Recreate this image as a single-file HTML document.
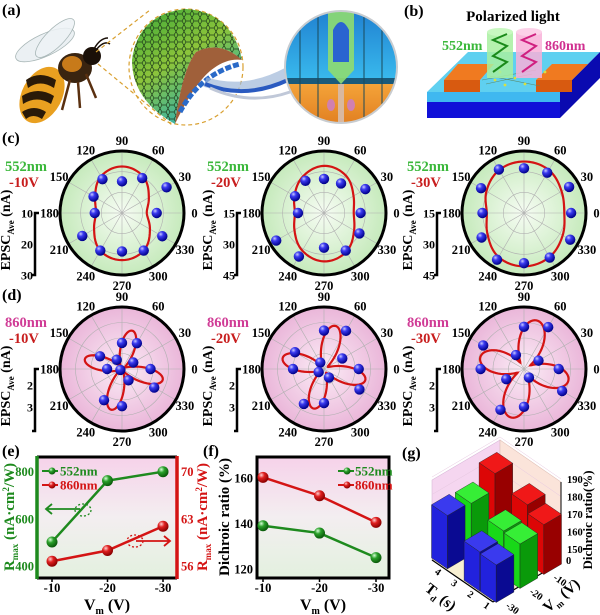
<!DOCTYPE html>
<html><head><meta charset="utf-8">
<style>
html,body{margin:0;padding:0;background:#fff;}
svg{display:block;font-family:"Liberation Serif",serif;font-weight:bold;}
</style></head>
<body>
<svg id="fig" width="600" height="615" viewBox="0 0 600 615" xmlns="http://www.w3.org/2000/svg">
<defs>
<radialGradient id="gGreen" cx="50%" cy="50%" r="50%"><stop offset="0" stop-color="#f6fcf3"/><stop offset="1" stop-color="#c6eabc"/></radialGradient>
<radialGradient id="gPink" cx="50%" cy="50%" r="50%"><stop offset="0" stop-color="#fbecf6"/><stop offset="1" stop-color="#eab6d9"/></radialGradient>
<radialGradient id="ball" cx="35%" cy="30%" r="70%"><stop offset="0" stop-color="#c8c8ff"/><stop offset="0.35" stop-color="#3a3af0"/><stop offset="1" stop-color="#00008a"/></radialGradient>
<radialGradient id="ballG" cx="35%" cy="30%" r="70%"><stop offset="0" stop-color="#d8ffd8"/><stop offset="0.4" stop-color="#2aa02a"/><stop offset="1" stop-color="#0a5a0a"/></radialGradient>
<radialGradient id="ballR" cx="35%" cy="30%" r="70%"><stop offset="0" stop-color="#ffd0d0"/><stop offset="0.4" stop-color="#e02020"/><stop offset="1" stop-color="#8a0000"/></radialGradient>
<linearGradient id="plotBg" x1="0" y1="0" x2="0" y2="1"><stop offset="0" stop-color="#f6d2ea"/><stop offset="0.5" stop-color="#f3eef0"/><stop offset="1" stop-color="#e3f1df"/></linearGradient>
<linearGradient id="sheet" x1="0" y1="0" x2="0.6" y2="1"><stop offset="0" stop-color="#3aa838"/><stop offset="0.5" stop-color="#8cc43a"/><stop offset="1" stop-color="#2ab0b8"/></linearGradient>
<linearGradient id="inTop" x1="0" y1="0" x2="0" y2="1"><stop offset="0" stop-color="#1f7fd0"/><stop offset="1" stop-color="#3cc0f0"/></linearGradient>
<linearGradient id="inBot" x1="0" y1="0" x2="0" y2="1"><stop offset="0" stop-color="#f5a53a"/><stop offset="1" stop-color="#e07d20"/></linearGradient>
<pattern id="hex" width="8" height="7" patternUnits="userSpaceOnUse"><path d="M2,0 L6,0 L8,3.5 L6,7 L2,7 L0,3.5 Z" fill="none" stroke="#1d3a1a" stroke-width="0.7"/></pattern>
<clipPath id="inset"><circle cx="341" cy="67" r="56"/></clipPath>
</defs>

<!-- Panel (a) -->
<g>
<text x="2" y="15" font-size="16">(a)</text>
<g>
<ellipse cx="45" cy="45" rx="32" ry="11" transform="rotate(-25 45 45)" fill="#e8eef2" stroke="#9aa" stroke-width="0.8" opacity="0.85"/>
<ellipse cx="55" cy="38" rx="26" ry="9" transform="rotate(-45 55 38)" fill="#eef3f6" stroke="#9aa" stroke-width="0.8" opacity="0.85"/>
<ellipse cx="42" cy="95" rx="20" ry="30" transform="rotate(28 42 95)" fill="#e9a020"/>
<path d="M26,80 Q40,70 56,80 L54,88 Q40,79 28,88 Z" fill="#2a1a08"/>
<path d="M22,96 Q38,86 54,96 L51,104 Q37,95 23,104 Z" fill="#2a1a08"/>
<path d="M22,112 Q34,104 46,112 L42,119 Q33,113 26,119 Z" fill="#2a1a08"/>
<ellipse cx="75" cy="68" rx="17" ry="15" fill="#3a2410"/>
<ellipse cx="72" cy="64" rx="10" ry="8" fill="#c77a1a"/>
<circle cx="92" cy="56" r="9" fill="#1a1008"/>
<path d="M96,50 Q104,40 110,44 M94,49 Q100,38 108,38" stroke="#1a1008" stroke-width="1.5" fill="none"/>
<path d="M70,80 L62,110 M78,82 L80,108 M86,74 L96,98" stroke="#5a3010" stroke-width="2.5" fill="none"/>
</g>
<path d="M96,52 L150,10 M98,64 L172,125" stroke="#d9a030" stroke-width="1.2" stroke-dasharray="4,3" fill="none"/>
<g>
<ellipse cx="186" cy="67" rx="57" ry="58" fill="none" stroke="#d9a030" stroke-width="1.2" stroke-dasharray="4,3"/>
<path d="M175,124 Q132,100 132,60 Q138,14 186,9 Q232,12 242,60 Q220,40 196,52 Q182,70 175,124 Z" fill="url(#sheet)"/>
<path d="M175,124 Q132,100 132,60 Q138,14 186,9 Q232,12 242,60 Q220,40 196,52 Q182,70 175,124 Z" fill="url(#hex)"/>
<path d="M175,124 Q182,70 196,52 Q220,40 242,60 Q228,58 214,68 Q196,80 175,124 Z" fill="#a0603a"/>
<path d="M180,112 Q200,74 240,64" stroke="#2a6ac8" stroke-width="5" fill="none" stroke-dasharray="6,2"/>
</g>
<g>
<path d="M205,82 Q245,95 288,72" stroke="#9fb8d8" stroke-width="10" fill="none" opacity="0.7"/>
<path d="M205,84 Q245,100 288,80" stroke="#2a5ac0" stroke-width="4" fill="none"/>
<path d="M210,88 Q250,106 290,92" stroke="#c0c8d8" stroke-width="3" fill="none"/>
</g>
<g clip-path="url(#inset)">
<rect x="280" y="8" width="125" height="80" fill="url(#inTop)"/>
<rect x="280" y="82" width="125" height="45" fill="url(#inBot)"/>
<rect x="280" y="78" width="125" height="6" fill="#1a5a7a"/>
<path d="M300,8 V125 M318,8 V125 M364,8 V125 M382,8 V125" stroke="#1a4a5a" stroke-width="1"/>
<path d="M328,8 L354,8 L354,70 L341,84 L328,70 Z" fill="#8fdc70" opacity="0.9"/>
<path d="M333,30 Q341,14 349,30 L349,62 L333,62 Z" fill="#2a64d0"/>
<rect x="338" y="84" width="6" height="42" fill="#d8b8a0"/>
<ellipse cx="331" cy="105" rx="4" ry="6" fill="#d080b0"/><ellipse cx="351" cy="105" rx="4" ry="6" fill="#d080b0"/>
</g>
<circle cx="341" cy="67" r="56" fill="none" stroke="#c8ccd0" stroke-width="2"/>
</g>

<!-- Panel (b) -->
<g>
<text x="404" y="16" font-size="16">(b)</text>
<text x="513" y="21" font-size="15" text-anchor="middle">Polarized light</text>
<polygon points="427,92 560,92 600,52 468,52" fill="#5fd0f0"/>
<polygon points="427,92 560,92 560,102 427,102" fill="#3fb8f0"/>
<polygon points="427,102 560,102 560,118 427,118" fill="#1010d8"/>
<polygon points="560,92 600,52 600,78 560,118" fill="#0a0ab0"/>
<g>
<polygon points="444,80 480,80 494,64 458,64" fill="#f07a20"/><rect x="444" y="80" width="36" height="12" fill="#d85a10"/></g>
<g>
<polygon points="536,80 572,80 588,64 552,64" fill="#f07a20"/><rect x="536" y="80" width="36" height="12" fill="#d85a10"/></g>
<path d="M482,80 L536,70 M486,84 L532,74 M490,76 L540,86" stroke="#5a8a6a" stroke-width="0.6"/>
<g fill="#d8e040"><circle cx="495" cy="80" r="1.4"/><circle cx="505" cy="85" r="1.4"/><circle cx="515" cy="78" r="1.4"/><circle cx="525" cy="84" r="1.4"/><circle cx="545" cy="72" r="1.4"/><circle cx="500" cy="72" r="1.4"/></g>
<g>
<rect x="487" y="32" width="26" height="46" fill="#a8f0a0" opacity="0.85"/><ellipse cx="500" cy="32" rx="13" ry="4" fill="#c8f8c0"/>
<path d="M493,72 L507,62 L493,56 L507,46 L493,40 L507,34" stroke="#1a8a1a" stroke-width="2" fill="none"/></g>
<g>
<rect x="516" y="32" width="26" height="46" fill="#f8b0d8" opacity="0.85"/><ellipse cx="529" cy="32" rx="13" ry="4" fill="#fcd0e8"/>
<path d="M522,72 L536,62 L522,56 L536,46 L522,40 L536,34" stroke="#d02080" stroke-width="2" fill="none"/></g>
<text x="442" y="50" font-size="14" fill="#3ab83a">552nm</text>
<text x="545" y="50" font-size="14" fill="#d03090">860nm</text>
</g>

<text x="2" y="143" font-size="16">(c)</text>
<text x="2" y="300" font-size="16">(d)</text>
<text x="2" y="456" font-size="16">(e)</text>
<text x="203" y="456" font-size="16">(f)</text>
<text x="402" y="458" font-size="16">(g)</text>

<g id="chartG"></g>
<g id="polars"></g>
<g id="chartE"></g>
<g id="chartF"></g>
</svg>

<script>
// ---------- data ----------
const polarAngles = [0,30,60,90,120,150,180,210,240,270,300,330];
// (c) 552 nm, normalized EPSC radius
const c1Values = [0.56,0.83,0.65,0.51,0.63,0.53,0.44,0.74,0.70,0.62,0.70,0.75];
const c2Values = [0.59,0.77,0.55,0.55,0.60,0.54,0.42,0.89,0.81,0.56,0.70,0.66];
const c3Values = [0.76,0.84,0.75,0.72,0.81,0.80,0.67,0.79,0.87,0.81,0.83,0.86];
const c1Fit = [0.40,0.50,0.68,0.75,0.68,0.50,0.42,0.52,0.70,0.76,0.70,0.52];
const c2Fit = [0.48,0.55,0.70,0.76,0.68,0.55,0.47,0.55,0.70,0.78,0.72,0.56];
const c3Fit = [0.65,0.70,0.80,0.83,0.80,0.70,0.60,0.68,0.82,0.86,0.82,0.72];
// (d) 860 nm
const d1Values = [0.46,0.21,0.48,0.42,0.17,0.41,0.24,0.03,0.58,0.60,0.21,0.60];
const d2Values = [0.56,0.34,0.71,0.62,0.12,0.54,0.50,0.10,0.65,0.55,0.16,0.66];
const d3Values = [0.56,0.27,0.78,0.68,0.26,0.76,0.70,0.33,0.76,0.61,0.16,0.71];
const lobeAngles = [75,165,255,345];
const d1Lobes = [0.64,0.62,0.68,0.68];
const d2Lobes = [0.72,0.69,0.66,0.69];
const d3Lobes = [0.81,0.73,0.81,0.74];
const dWaist = [0.06,0.07,0.12];
const dSharp = [3.0,2.5,1.6];
// (e)
const vmCats = ['-10','-20','-30'];
const eGreen = [502,762,800];
const eRed = [56.7,58.3,61.9];
const eLeftTicks = [400,600,800];
const eRightTicks = [56,63,70];
// (f)
const fGreen = [139,135.8,125];
const fRed = [160.3,152.2,140.5];
const fTicks = [120,140,160];
// (g)
const gTd = [4,2,1];
const gRed = [181,176,171];
const gGreen = [172,169,168];
const gBlue = [173,165,164];
const gTicks = [150,160,170,180,190];

// ---------- helpers ----------
const NS = 'http://www.w3.org/2000/svg';
function mk(tag, attrs, parent){ const e=document.createElementNS(NS,tag); for(const k in attrs) e.setAttribute(k,attrs[k]); parent.appendChild(e); return e; }
function pol(cx,cy,R,ang,r){ const a=ang*Math.PI/180; return [cx+R*r*Math.cos(a), cy-R*r*Math.sin(a)]; }
function cr(p0,p1,p2,p3,t){ return 0.5*((2*p1)+(-p0+p2)*t+(2*p0-5*p1+4*p2-p3)*t*t+(-p0+3*p1-3*p2+p3)*t*t*t); }

const polG = document.getElementById('polars');
const R = 62;
function polarPlot(cx, cy, kind, values, curveFn, wl, volt, scaleTicks, idx){
  const g = mk('g',{},polG);
  
  
  const bg = mk('circle',{cx:cx,cy:cy,r:R,fill: kind==='c'?'url(#gGreen)':'url(#gPink)'},g);
  
  
  const rings = kind==='c'?[1/3,2/3]:[0.25,0.5,0.75];
  rings.forEach(rr=>{ const c=mk('circle',{cx:cx,cy:cy,r:R*rr,fill:'none',stroke:'#b0b0b0','stroke-width':0.6},g);
      });
  polarAngles.forEach(a=>{ const p=pol(cx,cy,R,a,1); const l=mk('line',{x1:cx,y1:cy,x2:p[0],y2:p[1],stroke:'#b0b0b0','stroke-width':0.6},g);
     
    const q=pol(cx,cy,R,a,1.17); const t=mk('text',{x:q[0],y:q[1]+4.5,'font-size':12.5,'text-anchor':'middle'},g); t.textContent=a;
      });
  let d='';
  for(let th=0; th<=360; th+=2){ const r=curveFn(th); const p=pol(cx,cy,R,th,r); d+=(th===0?'M':'L')+p[0].toFixed(2)+','+p[1].toFixed(2); }
  const cv=mk('path',{d:d+'Z',fill:'none',stroke:'#d41414','stroke-width':2.2},g);
   
  values.forEach((v,i)=>{ const p=pol(cx,cy,R,polarAngles[i],v); const b=mk('circle',{cx:p[0],cy:p[1],r:5.2,fill:'url(#ball)'},g);
      });
  const ring=mk('circle',{cx:cx,cy:cy,r:R,fill:'none',stroke:'#000','stroke-width':3},g);
   
  const wlT=mk('text',{x:cx-117,y:cy-42,'font-size':14.5,fill: kind==='c'?'#3cb83c':'#d03c96'},g); wlT.textContent=wl;
   
  const vT=mk('text',{x:cx-113,y:cy-26,'font-size':14.5,fill:'#c81e1e'},g); vT.textContent=volt;
   
  const bx=cx-87;
  const bar=mk('path',{d:`M${bx+4},${cy} H${bx} V${cy+R} H${bx-3}`,fill:'none',stroke:'#000','stroke-width':2.5},g);
   
  scaleTicks.forEach((s,i)=>{ const y= kind==='c'? cy+R*i/2 : cy+16+i*22;
    const t=mk('text',{x:bx-2,y:y+4.5,'font-size':12,'text-anchor':'end'},g); t.textContent=s;
      });
  const yl=mk('text',{x:0,y:0,'font-size':14,'text-anchor':'middle',transform:`translate(${cx-112},${cy+17}) rotate(-90)`},g);
  yl.innerHTML='EPSC<tspan font-size="9" dy="4">Ave</tspan><tspan dy="-4"> (nA)</tspan>';
   
}
function cFit(arr){ return th=>{ const x=th/30; const i=Math.floor(x)%12; const t=x-Math.floor(x); const n=arr.length;
  return cr(arr[(i-1+n)%n],arr[i%n],arr[(i+1)%n],arr[(i+2)%n],t); }; }
function dFit(lobes,w,p){ return th=>{ let best=w; lobeAngles.forEach((a,i)=>{ const diff=((th-a)%360+540)%360-180;
  if(Math.abs(diff)<45){ const c=Math.cos(2*diff*Math.PI/180); best = w+(lobes[i]-w)*Math.pow(c,p); } }); return best; }; }

polarPlot(122,213,'c',c1Values,cFit(c1Fit),'552nm','-10V',['10','20','30'],1);
polarPlot(324,213,'c',c2Values,cFit(c2Fit),'552nm','-20V',['15','30','45'],2);
polarPlot(524,213,'c',c3Values,cFit(c3Fit),'552nm','-30V',['15','30','45'],3);
polarPlot(122,369,'d',d1Values,dFit(d1Lobes,dWaist[0],dSharp[0]),'860nm','-10V',['2','3'],1);
polarPlot(324,369,'d',d2Values,dFit(d2Lobes,dWaist[1],dSharp[1]),'860nm','-20V',['2','3'],2);
polarPlot(524,369,'d',d3Values,dFit(d3Lobes,dWaist[2],dSharp[2]),'860nm','-30V',['2','3'],3);

// ---------- (e) ----------
(function(){
  const g=document.getElementById('chartE');
  const L=37,Rt=177,T=457,B=578;
  const xs=i=>52+i*55.5;
  const yl=v=>566-(v-400)*(94.3/400);
  const yr=v=>566-(v-56)*(94.3/14);
  const bg=mk('rect',{x:L,y:T,width:Rt-L,height:B-T,fill:'url(#plotBg)'},g);
   
  const fr=mk('path',{d:`M${L},${T} H${Rt} M${L},${B} H${Rt}`,stroke:'#000','stroke-width':3},g);
   
  const la=mk('line',{x1:L,y1:T-1,x2:L,y2:B+1,stroke:'#1e8a1e','stroke-width':3.5},g);
   
  const ra=mk('line',{x1:Rt,y1:T-1,x2:Rt,y2:B+1,stroke:'#d41414','stroke-width':3.5},g);
   
  eLeftTicks.forEach(v=>{ const t=mk('text',{x:L-3,y:yl(v)+4.5,'font-size':12.5,'text-anchor':'end',fill:'#1e8a1e'},g); t.textContent=v;
      });
  eRightTicks.forEach(v=>{ const t=mk('text',{x:Rt+4,y:yr(v)+4.5,'font-size':12.5,fill:'#d41414'},g); t.textContent=v;
      });
  vmCats.forEach((c,i)=>{ const t=mk('text',{x:xs(i),y:592,'font-size':12.5,'text-anchor':'middle'},g); t.textContent=c;
     
    const tk=mk('line',{x1:xs(i),y1:B,x2:xs(i),y2:B+4,stroke:'#000','stroke-width':1.5},g);
      });
  const xt=mk('text',{x:107,y:610,'font-size':16,'text-anchor':'middle'},g);
  xt.innerHTML='V<tspan font-size="10" dy="4">m</tspan><tspan dy="-4"> (V)</tspan>';
   
  const ylab=mk('text',{x:0,y:0,'font-size':15,'text-anchor':'middle',fill:'#1e8a1e',transform:'translate(14,517) rotate(-90)'},g);
  ylab.innerHTML='R<tspan font-size="9" dy="4">max</tspan><tspan dy="-4"> (nA·cm</tspan><tspan font-size="9" dy="-5">2</tspan><tspan dy="5">/W)</tspan>';
   
  const yrlab=mk('text',{x:0,y:0,'font-size':15,'text-anchor':'middle',fill:'#d41414',transform:'translate(207,517) rotate(-90)'},g);
  yrlab.innerHTML='R<tspan font-size="9" dy="4">max</tspan><tspan dy="-4"> (nA·cm</tspan><tspan font-size="9" dy="-5">2</tspan><tspan dy="5">/W)</tspan>';
   
  function series(vals,yf,col,grad,name){
    const pts=vals.map((v,i)=>[xs(i),yf(v)]);
    const pl=mk('polyline',{points:pts.map(p=>p.join(',')).join(' '),fill:'none',stroke:col,'stroke-width':2.5},g);
     
    pts.forEach(p=>{ const c=mk('circle',{cx:p[0],cy:p[1],r:5.5,fill:grad},g);
        });
  }
  series(eGreen,yl,'#1e8a1e','url(#ballG)','green-552nm');
  series(eRed,yr,'#d41414','url(#ballR)','red-860nm');
  const lg=mk('g',{},g);  
  [['552nm','#1e8a1e','url(#ballG)',471],['860nm','#d41414','url(#ballR)',485]].forEach(l=>{
    mk('line',{x1:42,y1:l[3],x2:58,y2:l[3],stroke:l[1],'stroke-width':2},lg); mk('circle',{cx:52,cy:l[3],r:3.5,fill:l[2]},lg);
    const t=mk('text',{x:60,y:l[3]+4.5,'font-size':13,fill:l[1]},lg); t.textContent=l[0];
      });
  const a1=mk('path',{d:'M80,509 H46 M52,504 L46,509 L52,514',fill:'none',stroke:'#1e8a1e','stroke-width':1.8},g);
   
  mk('ellipse',{cx:83,cy:510,rx:8,ry:6,fill:'none',stroke:'#1e8a1e','stroke-width':1.3,'stroke-dasharray':'2,2'},g);
  const a2=mk('path',{d:'M136,541 H170 M164,536 L170,541 L164,546',fill:'none',stroke:'#d41414','stroke-width':1.8},g);
   
  mk('ellipse',{cx:135,cy:541,rx:8,ry:6,fill:'none',stroke:'#d41414','stroke-width':1.3,'stroke-dasharray':'2,2'},g);
})();

// ---------- (f) ----------
(function(){
  const g=document.getElementById('chartF');
  const L=257,Rt=389,T=457,B=578;
  const xs=i=>263+i*56.5;
  const y=v=>569-(v-120)*(91/40);
  const bg=mk('rect',{x:L,y:T,width:Rt-L,height:B-T,fill:'url(#plotBg)',stroke:'#000','stroke-width':3},g);
   
  fTicks.forEach(v=>{ const t=mk('text',{x:L-4,y:y(v)+4.5,'font-size':12.5,'text-anchor':'end'},g); t.textContent=v;
      });
  vmCats.forEach((c,i)=>{ const t=mk('text',{x:xs(i),y:592,'font-size':12.5,'text-anchor':'middle'},g); t.textContent=c;
     
    const tk=mk('line',{x1:xs(i),y1:B,x2:xs(i),y2:B+4,stroke:'#000','stroke-width':1.5},g);
      });
  const xt=mk('text',{x:323,y:610,'font-size':16,'text-anchor':'middle'},g);
  xt.innerHTML='V<tspan font-size="10" dy="4">m</tspan><tspan dy="-4"> (V)</tspan>';
   
  const yt=mk('text',{x:0,y:0,'font-size':15,'text-anchor':'middle',transform:'translate(229,517) rotate(-90)'},g);
  yt.textContent='Dichroic ratio (%)';
   
  function series(vals,col,grad,name){
    const pts=vals.map((v,i)=>[xs(i),y(v)]);
    const pl=mk('polyline',{points:pts.map(p=>p.join(',')).join(' '),fill:'none',stroke:col,'stroke-width':2.5},g);
     
    pts.forEach(p=>{ const c=mk('circle',{cx:p[0],cy:p[1],r:5.5,fill:grad},g);
        });
  }
  series(fGreen,'#1e8a1e','url(#ballG)','green-552nm');
  series(fRed,'#d41414','url(#ballR)','red-860nm');
  [['552nm','#1e8a1e','url(#ballG)',471],['860nm','#d41414','url(#ballR)',485]].forEach(l=>{
    mk('line',{x1:338,y1:l[3],x2:354,y2:l[3],stroke:l[1],'stroke-width':2},g); mk('circle',{cx:347,cy:l[3],r:3.5,fill:l[2]},g);
    const t=mk('text',{x:355,y:l[3]+4.5,'font-size':13,fill:l[1]},g); t.textContent=l[0];
      });
})();

// ---------- (g) ----------
(function(){
  const g=document.getElementById('chartG');
  const F=[493,602], Lv=[-61,-42], Rv=[68,-40];
  const P=(t,v,h)=>[F[0]+t*Lv[0]+v*Rv[0], F[1]+t*Lv[1]+v*Rv[1]-h];
  const H=val=>13+(val-150)*1.75;
  const WH=80;
  const ptsStr=a=>a.map(p=>p[0].toFixed(1)+','+p[1].toFixed(1)).join(' ');
  const lw=mk('polygon',{points:ptsStr([P(1,0,0),P(1,1,0),P(1,1,WH),P(1,0,WH)]),fill:'#f5d6f0',stroke:'#d8b8d8','stroke-width':0.6},g);
   
  const rw=mk('polygon',{points:ptsStr([P(0,1,0),P(1,1,0),P(1,1,WH),P(0,1,WH)]),fill:'#fbe4da',stroke:'#e0c0b8','stroke-width':0.6},g);
   
  const fl=mk('polygon',{points:ptsStr([P(0,0,0),P(1,0,0),P(1,1,0),P(0,1,0)]),fill:'#f8f0d2',stroke:'#c8c0a0','stroke-width':0.6},g);
   
  gTicks.forEach(v=>{ const a=P(1,1,H(v)), b=P(1,0,H(v)), c=P(0,1,H(v));
    const l=mk('polyline',{points:ptsStr([b,a,c]),fill:'none',stroke:'#e6c8e0','stroke-width':0.5},g);
     
    const p=P(0,1,H(v)); const t=mk('text',{x:p[0]+6,y:p[1]+4,'font-size':10.5},g); t.textContent=v;
      });
  const z0=P(0,1,0); const t0=mk('text',{x:z0[0]+5,y:z0[1]+2,'font-size':10.5},g); t0.textContent='0';
   
  const ax=mk('line',{x1:z0[0],y1:z0[1],x2:z0[0],y2:P(0,1,WH)[1],stroke:'#000','stroke-width':1},g);
   
  const zt=mk('text',{x:0,y:0,'font-size':13,'text-anchor':'middle',transform:'translate(592,520) rotate(-90)'},g);
  zt.textContent='Dichroic ratio(%)';
   
  const eL=mk('line',{x1:F[0],y1:F[1],x2:F[0]+Lv[0],y2:F[1]+Lv[1],stroke:'#000','stroke-width':1.2},g);
   
  const eR=mk('line',{x1:F[0],y1:F[1],x2:F[0]+Rv[0],y2:F[1]+Rv[1],stroke:'#000','stroke-width':1.2},g);
   
  const tdT=t=> 0.1+(t-1)/3*0.8;
  [1,2,3,4].forEach(v=>{ const p=P(tdT(v),0,0); const t=mk('text',{x:p[0]-4,y:p[1]+9,'font-size':10,transform:`rotate(35 ${p[0]-4} ${p[1]+9})`},g); t.textContent=v;
      });
  const vmPos=[0.85,0.5,0.15];
  vmCats.forEach((c,i)=>{ const p=P(0,vmPos[i],0); const t=mk('text',{x:p[0]+2,y:p[1]+11,'font-size':10,transform:`rotate(35 ${p[0]+2} ${p[1]+11})`},g); t.textContent=c;
      });
  const tdl=mk('text',{x:0,y:0,'font-size':15,transform:'translate(424,590) rotate(38)'},g);
  tdl.innerHTML='T<tspan font-size="9" dy="4">d</tspan><tspan dy="-4"> (s)</tspan>';
   
  const vml=mk('text',{x:0,y:0,'font-size':15,transform:'translate(548,613) rotate(-40)'},g);
  vml.innerHTML='V<tspan font-size="9" dy="4">m</tspan><tspan dy="-4"> (V)</tspan>';
   
  const bars=[];
  const series=[[gRed,['#f01818','#dc0606','#980000'],'red'],[gGreen,['#36ee36','#18d818','#0a9a0a'],'green'],[gBlue,['#3a3aee','#2222dd','#0a0a92'],'blue']];
  series.forEach((s,si)=>{ s[0].forEach((val,ti)=>{ bars.push({t:tdT(gTd[ti]),v:vmPos[si],h:H(val),cols:s[1],name:s[2]}); }); });
  bars.sort((a,b)=>(b.t+b.v)-(a.t+a.v));
  const w=0.13;
  bars.forEach(b=>{
    const bg=mk('g',{},g);
    
    
    const t0=b.t-w,t1=b.t+w,v0=b.v-w,v1=b.v+w;
    mk('polygon',{points:ptsStr([P(t0,v0,0),P(t1,v0,0),P(t1,v0,b.h),P(t0,v0,b.h)]),fill:b.cols[1],stroke:'#222','stroke-width':0.4},bg);
    mk('polygon',{points:ptsStr([P(t0,v0,0),P(t0,v1,0),P(t0,v1,b.h),P(t0,v0,b.h)]),fill:b.cols[2],stroke:'#222','stroke-width':0.4},bg);
    mk('polygon',{points:ptsStr([P(t0,v0,b.h),P(t1,v0,b.h),P(t1,v1,b.h),P(t0,v1,b.h)]),fill:b.cols[0],stroke:'#222','stroke-width':0.4},bg);
  });
})();
</script>
</body></html>
